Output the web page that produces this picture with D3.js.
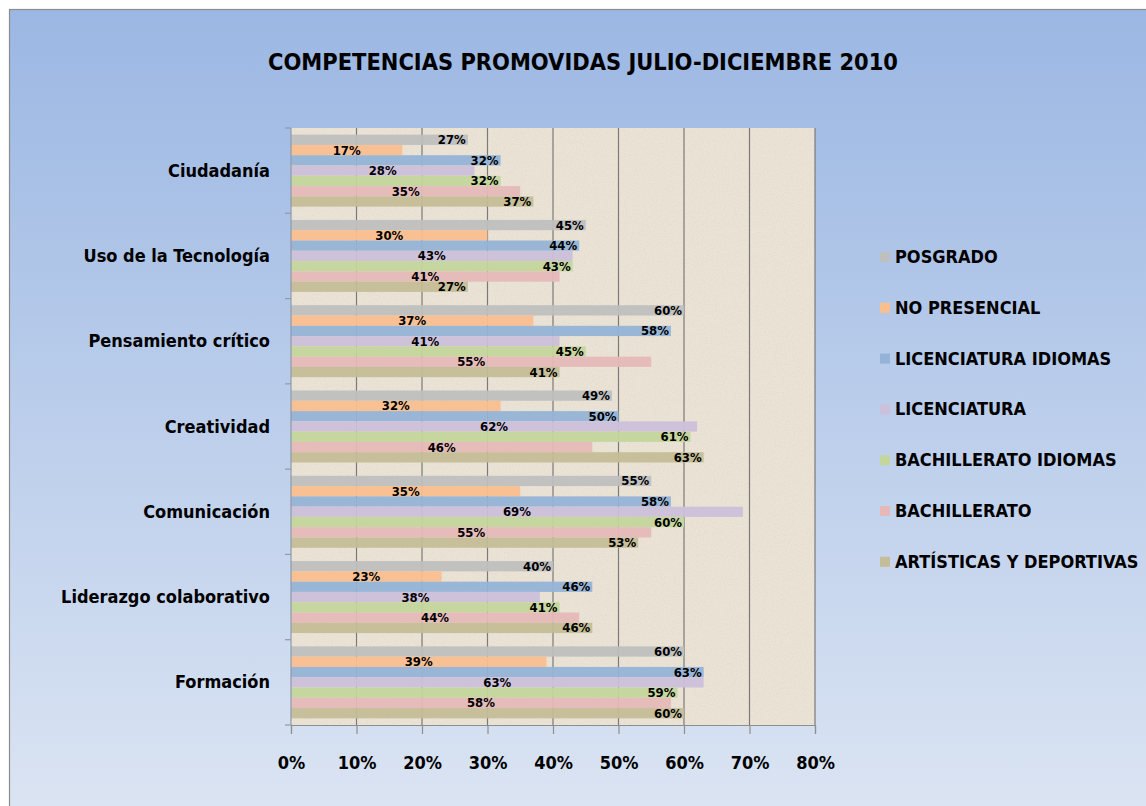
<!DOCTYPE html>
<html>
<head>
<meta charset="utf-8">
<script src="https://cdn.jsdelivr.net/npm/d3@7"></script>
<style>
  html, body { margin: 0; padding: 0; background: #ffffff; }
  svg { display: block; }
  text { font-family: "Liberation Sans Narrow", "DejaVu Sans Condensed", "Open Sans", sans-serif; font-weight: bold; fill: #000; }
</style>
</head>
<body>
<svg id="chart" width="1146" height="806"></svg>
<script>
const title = "COMPETENCIAS PROMOVIDAS JULIO-DICIEMBRE 2010";
const categories = ["Ciudadanía", "Uso de la Tecnología", "Pensamiento crítico", "Creatividad", "Comunicación", "Liderazgo colaborativo", "Formación"];
const seriesNames = ["POSGRADO", "NO PRESENCIAL", "LICENCIATURA IDIOMAS", "LICENCIATURA", "BACHILLERATO IDIOMAS", "BACHILLERATO", "ARTÍSTICAS Y DEPORTIVAS"];
const posgrado        = [27, 45, 60, 49, 55, 40, 60];
const noPresencial    = [17, 30, 37, 32, 35, 23, 39];
const licIdiomas      = [32, 44, 58, 50, 58, 46, 63];
const licenciatura    = [28, 43, 41, 62, 69, 38, 63];
const bachIdiomas     = [32, 43, 45, 61, 60, 41, 59];
const bachillerato    = [35, 41, 55, 46, 55, 44, 58];
const artisticas      = [37, 27, 41, 63, 53, 46, 60];
const seriesValues = [posgrado, noPresencial, licIdiomas, licenciatura, bachIdiomas, bachillerato, artisticas];
const seriesColors = ["#bfbfbf", "#fabf8f", "#95b3d7", "#ccc0da", "#c3d69b", "#e6b9b8", "#c4bd97"];
const xTicks = [0, 10, 20, 30, 40, 50, 60, 70, 80];

const svg = d3.select("#chart");
const defs = svg.append("defs");

const grad = defs.append("linearGradient").attr("id", "bg").attr("x1", 0).attr("y1", 0).attr("x2", 0).attr("y2", 1);
grad.append("stop").attr("offset", "0%").attr("stop-color", "#9bb7e3");
grad.append("stop").attr("offset", "100%").attr("stop-color", "#dce5f3");

const filt = defs.append("filter").attr("id", "tex").attr("x", 0).attr("y", 0).attr("width", 1).attr("height", 1);
filt.append("feTurbulence").attr("type", "fractalNoise").attr("baseFrequency", 0.9).attr("numOctaves", 2).attr("seed", 4);
filt.append("feColorMatrix").attr("type", "matrix")
  .attr("values", "0 0 0 0 0.55  0 0 0 0 0.50  0 0 0 0 0.42  1.0 0 0 0 -0.40");

// chart area background
svg.append("rect").attr("x", 9.5).attr("y", 9.5).attr("width", 1160).attr("height", 820)
  .attr("fill", "url(#bg)").attr("stroke", "#8c8c8c").attr("stroke-width", 1.2);

const plot = { left: 291, right: 815, top: 128, bottom: 725 };

const x = d3.scaleLinear().domain([0, 80]).range([plot.left, plot.right]);
const y0 = d3.scaleBand().domain(categories).range([plot.top, plot.bottom]).paddingInner(0.156).paddingOuter(0.078);
const y1 = d3.scaleBand().domain(seriesNames).range([0, y0.bandwidth()]).padding(0);

// plot background (textured)
svg.append("rect").attr("x", plot.left).attr("y", plot.top).attr("width", plot.right - plot.left).attr("height", plot.bottom - plot.top)
  .attr("fill", "#ebe4d6");
svg.append("rect").attr("x", plot.left).attr("y", plot.top).attr("width", plot.right - plot.left).attr("height", plot.bottom - plot.top)
  .attr("filter", "url(#tex)").attr("opacity", 0.45);

// gridlines
svg.append("g").selectAll("line").data(xTicks.slice(1)).join("line")
  .attr("x1", d => x(d)).attr("x2", d => x(d))
  .attr("y1", plot.top).attr("y2", plot.bottom)
  .attr("stroke", "#7a7a7a").attr("stroke-width", 1.2);

// bars
const groups = svg.append("g").selectAll("g").data(categories).join("g")
  .attr("transform", d => `translate(0,${y0(d)})`);

groups.each(function(cat, ci) {
  const g = d3.select(this);
  seriesNames.forEach((s, si) => {
    const v = seriesValues[si][ci];
    g.append("rect")
      .attr("x", x(0)).attr("y", y1(s))
      .attr("width", x(v) - x(0)).attr("height", y1.bandwidth())
      .attr("fill", seriesColors[si]).attr("opacity", 0.95);
  });
});

// data labels
groups.each(function(cat, ci) {
  const g = d3.select(this);
  seriesNames.forEach((s, si) => {
    const v = seriesValues[si][ci];
    const even = si % 2 === 0;
    g.append("text")
      .attr("x", even ? x(v) - 2 : (x(0) + x(v)) / 2)
      .attr("y", y1(s) + y1.bandwidth() / 2 + 4.5)
      .attr("text-anchor", even ? "end" : "middle")
      .attr("font-size", 13)
      .text(v + "%");
  });
});

// y axis line and ticks
svg.append("line").attr("x1", plot.left).attr("x2", plot.left).attr("y1", plot.top).attr("y2", plot.bottom)
  .attr("stroke", "#8e9aaa").attr("stroke-width", 1.2);
const yBounds = categories.map(c => y0(c) - y0.step() * y0.paddingInner() / 2).concat([plot.bottom]);
svg.append("g").selectAll("line").data(yBounds).join("line")
  .attr("x1", plot.left - 6).attr("x2", plot.left)
  .attr("y1", d => d).attr("y2", d => d)
  .attr("stroke", "#8e9aaa").attr("stroke-width", 1.2);

// category labels
svg.append("g").selectAll("text").data(categories).join("text")
  .attr("x", 270)
  .attr("y", d => y0(d) + y0.bandwidth() / 2 + 6)
  .attr("text-anchor", "end")
  .attr("font-size", 18)
  .text(d => d);

// x axis
const xAxis = d3.axisBottom(x).tickValues(xTicks).tickFormat(d => d + "%").tickSize(9).tickPadding(22);
const xg = svg.append("g").attr("transform", `translate(0,${plot.bottom})`).call(xAxis);
xg.select(".domain").attr("stroke", "#8e8e8e").attr("stroke-width", 1.2);
xg.selectAll(".tick line").attr("stroke", "#8e8e8e").attr("stroke-width", 1.2);
xg.selectAll(".tick text").attr("font-size", 18).attr("font-family", null).attr("fill", "#000");

// title
svg.append("text").attr("x", 583).attr("y", 70).attr("text-anchor", "middle")
  .attr("font-size", 23).attr("textLength", 630).attr("lengthAdjust", "spacingAndGlyphs")
  .text(title);

// legend
const legend = svg.append("g").selectAll("g").data(seriesNames).join("g")
  .attr("transform", (d, i) => `translate(880,${257 + i * 50.8})`);
legend.append("rect").attr("x", 0).attr("y", -5).attr("width", 10).attr("height", 10)
  .attr("fill", (d, i) => seriesColors[i]);
legend.append("text").attr("x", 15).attr("y", 6).attr("font-size", 18).text(d => d);
</script>
</body>
</html>
